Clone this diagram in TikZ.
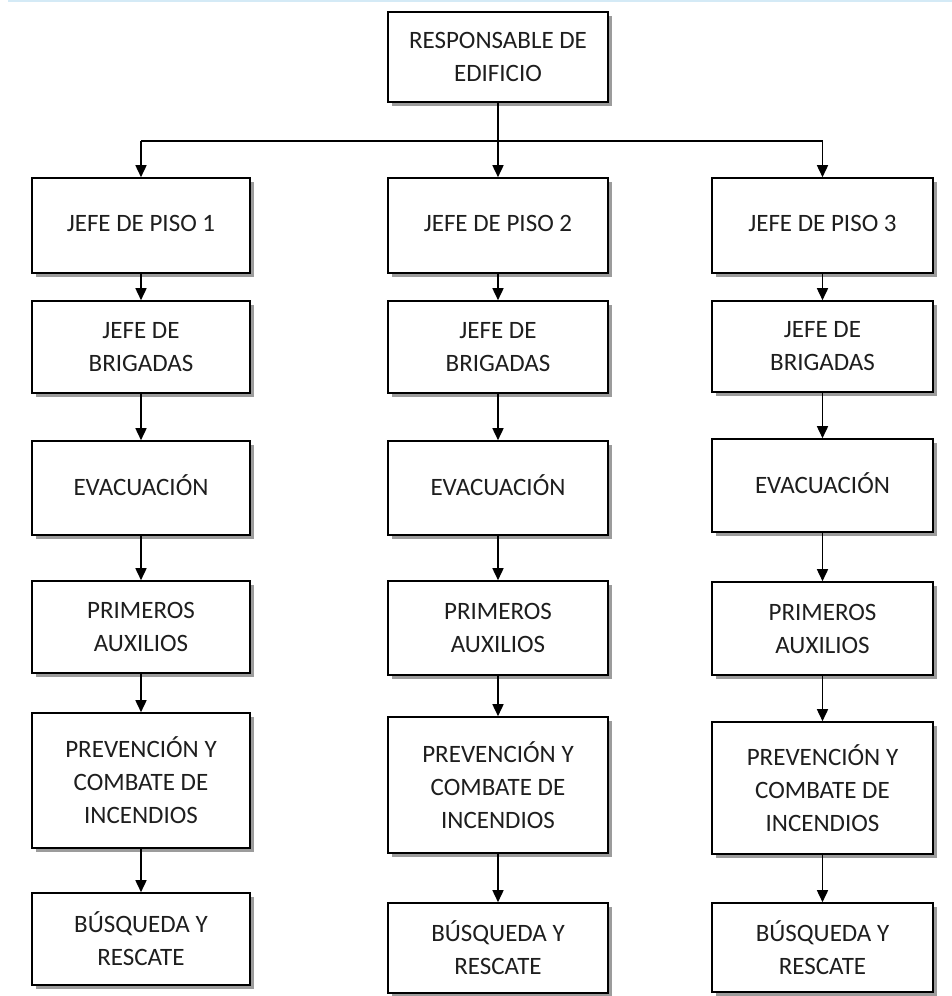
\documentclass[tikz,border=0pt]{standalone}
\usepackage{fontspec}
\setmainfont{Carlito}
\usetikzlibrary{arrows.meta,shadows}
\definecolor{txt}{HTML}{1E1E1E}
\definecolor{topline}{HTML}{D4EAF6}
\newcommand{\uptext}[1]{\raisebox{5pt}{#1}}
\tikzset{
  orgbox/.style={draw=black, line width=1.6pt, fill=white, rectangle, inner sep=0pt,
    align=center, text=txt, font=\fontsize{25}{33}\selectfont,
    drop shadow={shadow xshift=3.5pt, shadow yshift=-3.5pt, fill=black!55, opacity=0.7}},
  conn/.style={line width=1.6pt, -{Triangle[length=12pt,width=11pt]}},
  plainln/.style={line width=1.6pt}
}
\begin{document}
\begin{tikzpicture}[x=1pt,y=-1pt]
\useasboundingbox (0,0) rectangle (952,996);
\fill[white] (0,0) rectangle (952,996);
\draw[topline, line width=2pt] (8,1) -- (952,1);
% top
\node[orgbox, minimum width=220pt, minimum height=90pt] (top) at (498,57) {RESPONSABLE DE\\EDIFICIO};
% column 1
\node[orgbox, minimum width=218pt, minimum height=95pt] (a1) at (141,225.5) {\uptext{JEFE DE PISO 1}};
\node[orgbox, minimum width=218pt, minimum height=92pt] (a2) at (141,347) {JEFE DE\\BRIGADAS};
\node[orgbox, minimum width=218pt, minimum height=94pt] (a3) at (141,488) {\uptext{EVACUACIÓN}};
\node[orgbox, minimum width=218pt, minimum height=92pt] (a4) at (141,627) {PRIMEROS\\AUXILIOS};
\node[orgbox, minimum width=218pt, minimum height=135pt] (a5) at (141,780.5) {PREVENCIÓN Y\\COMBATE DE\\INCENDIOS};
\node[orgbox, minimum width=218pt, minimum height=92pt] (a6) at (141,939) {BÚSQUEDA Y\\RESCATE};
% column 2
\node[orgbox, minimum width=220pt, minimum height=95pt] (b1) at (498,225.5) {\uptext{JEFE DE PISO 2}};
\node[orgbox, minimum width=220pt, minimum height=92pt] (b2) at (498,347) {JEFE DE\\BRIGADAS};
\node[orgbox, minimum width=220pt, minimum height=94pt] (b3) at (498,488) {\uptext{EVACUACIÓN}};
\node[orgbox, minimum width=220pt, minimum height=94pt] (b4) at (498,628) {PRIMEROS\\AUXILIOS};
\node[orgbox, minimum width=220pt, minimum height=136pt] (b5) at (498,785) {PREVENCIÓN Y\\COMBATE DE\\INCENDIOS};
\node[orgbox, minimum width=220pt, minimum height=90pt] (b6) at (498,948) {BÚSQUEDA Y\\RESCATE};
% column 3
\node[orgbox, minimum width=221pt, minimum height=95pt] (c1) at (822.5,225.5) {\uptext{JEFE DE PISO 3}};
\node[orgbox, minimum width=221pt, minimum height=91pt] (c2) at (822.5,346.5) {JEFE DE\\BRIGADAS};
\node[orgbox, minimum width=221pt, minimum height=93pt] (c3) at (822.5,485.5) {\uptext{EVACUACIÓN}};
\node[orgbox, minimum width=221pt, minimum height=93pt] (c4) at (822.5,628.5) {PRIMEROS\\AUXILIOS};
\node[orgbox, minimum width=221pt, minimum height=132pt] (c5) at (822.5,788) {PREVENCIÓN Y\\COMBATE DE\\INCENDIOS};
\node[orgbox, minimum width=221pt, minimum height=89pt] (c6) at (822.5,947.5) {BÚSQUEDA Y\\RESCATE};
% connectors from top
\coordinate (hl) at (141,141);
\coordinate (hr) at (822.5,141);
\draw[plainln] (a1.north |- hl) -- (hr);
\draw[conn] (top.south) -- (b1.north);
\draw[conn] (hl) -- (a1.north);
\draw[conn] (hr) -- (c1.north);
% column chains
\foreach \col in {a,b,c}{
  \draw[conn] (\col1) -- (\col2);
  \draw[conn] (\col2) -- (\col3);
  \draw[conn] (\col3) -- (\col4);
  \draw[conn] (\col4) -- (\col5);
  \draw[conn] (\col5) -- (\col6);
}
\end{tikzpicture}
\end{document}
